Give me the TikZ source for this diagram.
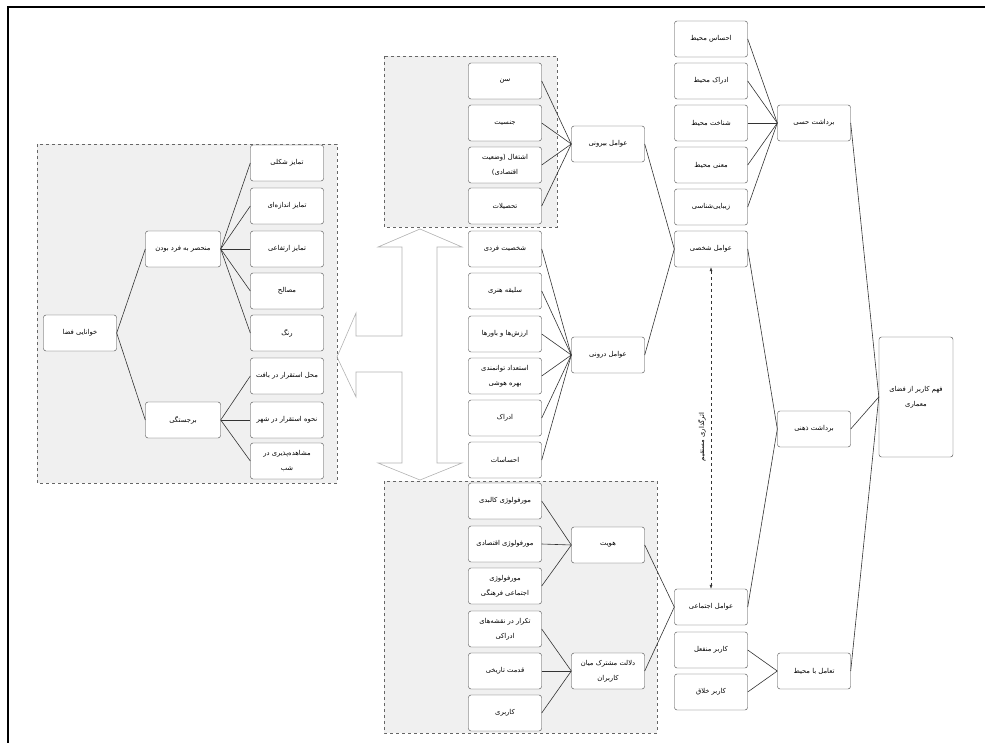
\documentclass[tikz,border=0pt]{standalone}
\usepackage{fontspec}
\usetikzlibrary{arrows.meta}
\newfontfamily\farsifont[Script=Arabic]{DejaVu Sans}
\TeXXeTstate=1
\newcommand{\fa}[1]{\beginR #1\endR}
\tikzset{
  item/.style={draw=black!75, rounded corners=2.5pt, fill=white, minimum width=73pt,
    minimum height=36pt, inner sep=1pt, align=center,
    font=\farsifont\fontsize{6.8}{13}\selectfont},
  link/.style={black!80, line width=0.6pt},
  group/.style={draw=black!60, dashed, fill=black!6, line width=0.5pt},
}
\begin{document}
\begin{tikzpicture}[x=1pt,y=-1pt]
\useasboundingbox (0,0) rectangle (985,743);
\draw[line width=2pt] (985,7) -- (8,7) -- (8,743);

% groups
\draw[group] (384,56) rectangle (557,227);
\draw[group] (384,481) rectangle (657,733);
\draw[group] (37,144) rectangle (337,483);

% hollow arrow
\draw[black!30, line width=0.6pt] (420,229) -- (462,247) -- (437,247) -- (437,463)
  -- (462,463) -- (420,480) -- (378,463) -- (402,463) -- (402,372) -- (356,372)
  -- (356,397) -- (337,357) -- (356,313) -- (356,336) -- (402,336) -- (402,247)
  -- (378,247) -- cycle;

% right side
\node[item, minimum width=74pt, minimum height=120pt] (fahm) at (916,397) {\fa{فهم کاربر از فضای}\\[2pt]\fa{معماری}};
\node[item] (hesi) at (814,123) {\fa{برداشت حسی}};
\node[item] (zehni) at (814,429) {\fa{برداشت ذهنی}};
\node[item] (taamol) at (814,671) {\fa{تعامل با محیط}};
\draw[link] (hesi.east) -- (fahm.west);
\draw[link] (zehni.east) -- (fahm.west);
\draw[link] (taamol.east) -- (fahm.west);

\node[item] (ehsasm) at (711,39) {\fa{احساس محیط}};
\node[item] (edrakm) at (711,81) {\fa{ادراک محیط}};
\node[item] (shenakht) at (711,123) {\fa{شناخت محیط}};
\node[item] (mani) at (711,165) {\fa{معنی محیط}};
\node[item] (zibai) at (711,207) {\fa{زیبایی‌شناسی}};
\node[item] (shakhsi) at (711,249) {\fa{عوامل شخصی}};
\node[item] (ejtemai) at (711,607) {\fa{عوامل اجتماعی}};
\node[item] (monfael) at (711,650) {\fa{کاربر منفعل}};
\node[item] (khallagh) at (711,692) {\fa{کاربر خلاق}};
\draw[link] (ehsasm.east) -- (hesi.west);
\draw[link] (edrakm.east) -- (hesi.west);
\draw[link] (shenakht.east) -- (hesi.west);
\draw[link] (mani.east) -- (hesi.west);
\draw[link] (zibai.east) -- (hesi.west);
\draw[link] (shakhsi.east) -- (zehni.west);
\draw[link] (ejtemai.east) -- (zehni.west);
\draw[link] (monfael.east) -- (taamol.west);
\draw[link] (khallagh.east) -- (taamol.west);
\draw[black!80, dashed, line width=0.5pt, {Latex[length=4pt,width=3pt]}-{Latex[length=4pt,width=3pt]}] (shakhsi.south) -- (ejtemai.north);
\node[font=\farsifont\fontsize{6.8}{13}\selectfont, rotate=90] (mostaghim) at (702,437) {\fa{اثرگذاری مستقیم}};

% middle
\node[item] (biruni) at (608,144) {\fa{عوامل بیرونی}};
\node[item] (daruni) at (608,355) {\fa{عوامل درونی}};
\node[item] (hoviyat) at (608,545) {\fa{هویت}};
\node[item] (delalat) at (608,671) {\fa{دلالت مشترک میان}\\[2pt]\fa{کاربران}};
\draw[link] (biruni.east) -- (shakhsi.west);
\draw[link] (daruni.east) -- (shakhsi.west);
\draw[link] (hoviyat.east) -- (ejtemai.west);
\draw[link] (delalat.east) -- (ejtemai.west);

\node[item] (sen) at (505,81) {\fa{سن}};
\node[item] (jensiyat) at (505,123) {\fa{جنسیت}};
\node[item] (eshteghal) at (505,165) {\fa{اشتغال (وضعیت}\\[2pt]\fa{اقتصادی)}};
\node[item] (tahsilat) at (505,206) {\fa{تحصیلات}};
\node[item] (shakhsiyat) at (505,249) {\fa{شخصیت فردی}};
\node[item] (saligheh) at (505,291) {\fa{سلیقه هنری}};
\node[item] (arzesh) at (505,334) {\fa{ارزش‌ها و باورها}};
\node[item] (esteedad) at (505,376) {\fa{استعداد توانمندی}\\[2pt]\fa{بهره هوشی}};
\node[item] (edrak) at (505,418) {\fa{ادراک}};
\node[item] (ehsasat) at (505,460) {\fa{احساسات}};
\node[item] (morphk) at (505,501) {\fa{مورفولوژی کالبدی}};
\node[item] (morpheg) at (505,544) {\fa{مورفولوژی اقتصادی}};
\node[item] (morphej) at (505,586) {\fa{مورفولوژی}\\[2pt]\fa{اجتماعی فرهنگی}};
\node[item] (tekrar) at (505,629) {\fa{تکرار در نقشه‌های}\\[2pt]\fa{ادراکی}};
\node[item] (ghedmat) at (505,671) {\fa{قدمت تاریخی}};
\node[item] (karbari) at (505,713) {\fa{کاربری}};
\draw[link] (sen.east) -- (biruni.west);
\draw[link] (jensiyat.east) -- (biruni.west);
\draw[link] (eshteghal.east) -- (biruni.west);
\draw[link] (tahsilat.east) -- (biruni.west);
\draw[link] (shakhsiyat.east) -- (daruni.west);
\draw[link] (saligheh.east) -- (daruni.west);
\draw[link] (arzesh.east) -- (daruni.west);
\draw[link] (esteedad.east) -- (daruni.west);
\draw[link] (edrak.east) -- (daruni.west);
\draw[link] (ehsasat.east) -- (daruni.west);
\draw[link] (morphk.east) -- (hoviyat.west);
\draw[link] (morpheg.east) -- (hoviyat.west);
\draw[link] (morphej.east) -- (hoviyat.west);
\draw[link] (tekrar.east) -- (delalat.west);
\draw[link] (ghedmat.east) -- (delalat.west);
\draw[link] (karbari.east) -- (delalat.west);

% left
\node[item] (khanayi) at (80,333) {\fa{خوانایی فضا}};
\node[item, minimum width=75pt] (monhaser) at (183,249) {\fa{منحصر به فرد بودن}};
\node[item, minimum width=75pt] (barjastegi) at (183,420) {\fa{برجستگی}};
\draw[link] (khanayi.east) -- (monhaser.west);
\draw[link] (khanayi.east) -- (barjastegi.west);

\node[item] (shekli) at (287,163) {\fa{تمایز شکلی}};
\node[item] (andaze) at (287,206) {\fa{تمایز اندازه‌ای}};
\node[item] (ertefai) at (287,249) {\fa{تمایز ارتفاعی}};
\node[item] (masaleh) at (287,291) {\fa{مصالح}};
\node[item] (rang) at (287,333) {\fa{رنگ}};
\node[item] (mahal) at (287,376) {\fa{محل استقرار در بافت}};
\node[item] (nahve) at (287,420) {\fa{نحوه استقرار در شهر}};
\node[item] (moshahede) at (287,461) {\fa{مشاهده‌پذیری در}\\[2pt]\fa{شب}};
\draw[link] (monhaser.east) -- (shekli.west);
\draw[link] (monhaser.east) -- (andaze.west);
\draw[link] (monhaser.east) -- (ertefai.west);
\draw[link] (monhaser.east) -- (masaleh.west);
\draw[link] (monhaser.east) -- (rang.west);
\draw[link] (barjastegi.east) -- (mahal.west);
\draw[link] (barjastegi.east) -- (nahve.west);
\draw[link] (barjastegi.east) -- (moshahede.west);
\end{tikzpicture}
\end{document}
